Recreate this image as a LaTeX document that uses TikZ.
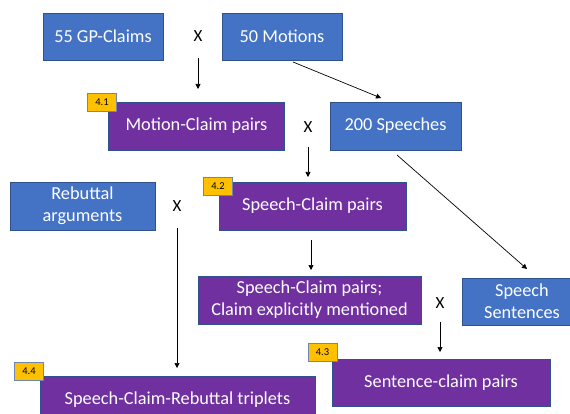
\documentclass[tikz,border=0pt]{standalone}
\usepackage{fontspec}
\setmainfont{Carlito}
\usetikzlibrary{arrows.meta}
\definecolor{boxblue}{HTML}{4472C4}
\definecolor{boxpurple}{HTML}{7030A0}
\definecolor{edgeblue}{HTML}{2F528F}
\definecolor{badgegold}{HTML}{FFC000}
\definecolor{badgeedge}{HTML}{6F86B0}
\tikzset{
  base/.style={rectangle, draw=edgeblue, line width=0.7pt, text=white, font=\fontsize{18.3}{22}\selectfont, inner sep=0pt, align=center},
  bluebox/.style={base, fill=boxblue},
  purplebox/.style={base, fill=boxpurple},
  badge/.style={rectangle, draw=badgeedge, line width=0.8pt, fill=badgegold, font=\fontsize{10.5}{12}\selectfont, minimum width=29pt, minimum height=18pt, inner sep=0pt},
  cross/.style={font=\fontsize{17}{20}\selectfont, inner sep=0pt},
  conn/.style={draw=black, line width=0.7pt, -{Triangle[length=5pt,width=5pt]}}
}
\begin{document}
\begin{tikzpicture}[x=1pt,y=-1pt]
\useasboundingbox (0,0) rectangle (570,414);
\begin{scope}
\clip (0,0) rectangle (570,414);
% row 1
\node[bluebox, minimum width=120pt, minimum height=47pt] (gp) at (103,36.5) {55 GP-Claims};
\node[cross] (x1) at (198,36) {X};
\node[bluebox, minimum width=120pt, minimum height=47pt] (mot) at (282,36.5) {50 Motions};
% row 2
\node[purplebox, minimum width=176pt, minimum height=48pt] (mcp) at (196.5,126) {Motion-Claim pairs};
\node[badge] (b41) at (102,102.5) {4.1};
\node[cross] (x2) at (308,127) {X};
\node[bluebox, minimum width=131pt, minimum height=48pt] (sp) at (395.5,126) {200 Speeches};
% row 3
\node[bluebox, minimum width=145pt, minimum height=48pt] (reb) at (82.5,206) {Rebuttal\\arguments};
\node[cross] (x3) at (177,206) {X};
\node[purplebox, minimum width=187pt, minimum height=48pt] (scp) at (312.5,206) {Speech-Claim pairs};
\node[badge] (b42) at (218,186.5) {4.2};
% row 4
\node[purplebox, minimum width=223pt, minimum height=48pt] (scpe) at (309.5,300) {Speech-Claim pairs;\\Claim explicitly mentioned};
\node[cross] (x4) at (440,303) {X};
\node[bluebox, minimum width=120pt, minimum height=47pt] (ss) at (522,301.5) {Speech\\Sentences};
% row 5
\node[purplebox, minimum width=218pt, minimum height=47pt] (scl) at (441,382.5) {Sentence-claim pairs};
\node[badge] (b43) at (322.5,352.5) {4.3};
\node[purplebox, minimum width=275pt, minimum height=48pt] (trip) at (177.5,400) {Speech-Claim-Rebuttal triplets};
\node[badge] (b44) at (29,371.5) {4.4};
\end{scope}
% connector ends
\coordinate (e1) at (198,89);
\coordinate (s2) at (293,62);
\coordinate (e2) at (381,98);
\coordinate (e3) at (308,177);
\coordinate (s4) at (397,155);
\coordinate (e4) at (527,269);
\coordinate (e5) at (177,368);
\coordinate (s6) at (311,240);
\coordinate (e6) at (311,270);
\coordinate (e7) at (440,352);
\draw[conn] ([yshift=-22pt]x1.center) -- (e1);
\draw[conn] (s2) -- (e2);
\draw[conn] ([yshift=-20pt]x2.center) -- (e3);
\draw[conn] (s4) -- (e4);
\draw[conn] ([yshift=-22pt]x3.center) -- (e5);
\draw[conn] (s6) -- (e6);
\draw[conn] ([yshift=-19pt]x4.center) -- (e7);
\end{tikzpicture}
\end{document}
